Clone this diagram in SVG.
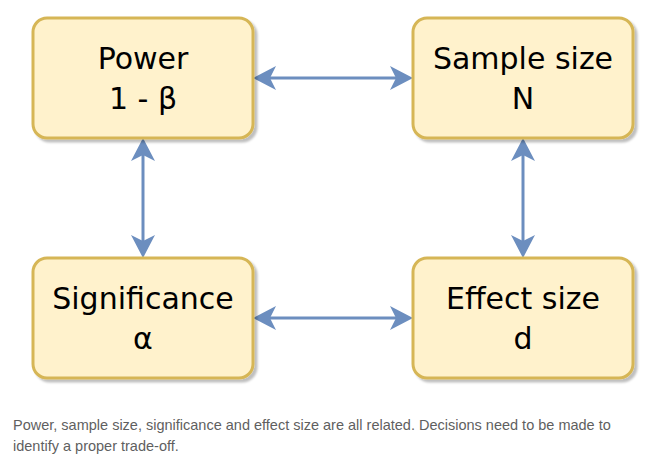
<svg xmlns="http://www.w3.org/2000/svg" width="669" height="461" viewBox="0 0 669 461">
<style>
.box{fill:#fff2cc;stroke:#d6b656;stroke-width:3;filter:url(#sh)}
.lbl{font-family:"DejaVu Sans",Verdana,sans-serif;font-size:30px;fill:#000;text-anchor:middle}
.conn{fill:none;stroke:#6c8ebf;stroke-width:3;marker-start:url(#ah);marker-end:url(#ah)}
.cap{font-family:"Liberation Sans",Arial,sans-serif;font-size:14.5px;fill:#5f5f5f}
</style>
<defs>
<filter id="sh" x="-10%" y="-10%" width="130%" height="130%">
<feDropShadow dx="3" dy="3" stdDeviation="1" flood-color="#000" flood-opacity="0.25"/>
</filter>
<marker id="ah" markerUnits="userSpaceOnUse" markerWidth="24" markerHeight="24" refX="6" refY="12" orient="auto-start-reverse" overflow="visible">
<path d="M0,0 L23,12 L0,24 L6,12 Z" fill="#6c8ebf"/>
</marker>
</defs>
<rect width="669" height="461" fill="#fff"/>
<g id="connectors">
<path class="conn" d="M270,78 L396,78"/>
<path class="conn" d="M143,155 L143,241"/>
<path class="conn" d="M523,155 L523,241"/>
<path class="conn" d="M270,318 L396,318"/>
</g>
<g id="power">
<rect class="box" x="33" y="18" width="220" height="120" rx="14"/>
<text class="lbl" x="143" y="69">Power</text>
<text class="lbl" x="143" y="109">1 - β</text>
</g>
<g id="sample">
<rect class="box" x="413" y="18" width="220" height="120" rx="14"/>
<text class="lbl" x="523" y="69">Sample size</text>
<text class="lbl" x="523" y="109">N</text>
</g>
<g id="significance">
<rect class="box" x="33" y="258" width="220" height="120" rx="14"/>
<text class="lbl" x="143" y="309">Significance</text>
<text class="lbl" x="143" y="349">α</text>
</g>
<g id="effect">
<rect class="box" x="413" y="258" width="220" height="120" rx="14"/>
<text class="lbl" x="523" y="309">Effect size</text>
<text class="lbl" x="523" y="349">d</text>
</g>
<g id="caption">
<text class="cap" x="13" y="430">Power, sample size, significance and effect size are all related. Decisions need to be made to</text>
<text class="cap" x="13" y="451">identify a proper trade-off.</text>
</g>
</svg>
